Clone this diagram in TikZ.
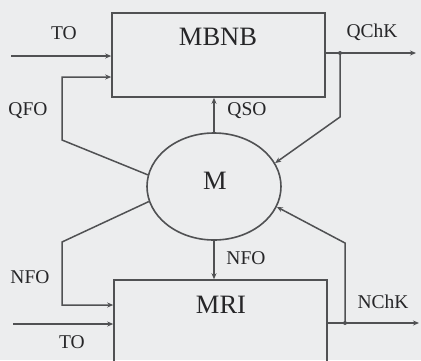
\documentclass[tikz,border=0pt]{standalone}
\usepackage{fontspec}
\setmainfont{Liberation Serif}
\usetikzlibrary{shapes.geometric,arrows.meta}
\definecolor{bg}{HTML}{ECEDEE}
\definecolor{ln}{HTML}{505153}
\definecolor{tx}{HTML}{262628}
\tikzset{
  box/.style={draw=ln, line width=1.6pt, rectangle, inner sep=0pt},
  oval/.style={draw=ln, line width=1.6pt, ellipse, inner sep=0pt, minimum width=134pt, minimum height=107pt},
  wire/.style={draw=ln, line width=1.5pt},
  arr/.style={wire, -{Stealth[length=6pt,width=5pt]}},
  lbl/.style={text=tx, font=\fontsize{19.5}{22}\selectfont, inner sep=0pt},
  big/.style={text=tx, font=\fontsize{26.5}{30}\selectfont, inner sep=0pt},
  jdot/.style={fill=ln, circle, inner sep=0pt, minimum size=4pt}
}
\begin{document}
\begin{tikzpicture}[x=1pt,y=-1pt]
\fill[bg] (0,0) rectangle (421,360);
\useasboundingbox (0,0) rectangle (421,360);
\clip (0,0) rectangle (421,360);
% blocks
\node[box, minimum width=213pt, minimum height=84pt] (MBNB) at (218.5,55) {};
\node[big] (tMBNB) at (218,37) {MBNB};
\node[box, minimum width=213pt, minimum height=100pt] (MRI) at (220.5,330) {};
\node[big] (tMRI) at (221,305) {MRI};
\node[oval] (M) at (214,186.5) {};
\node[big] (tM) at (215,181) {M};
% labels
\node[lbl] (lTO1) at (64,33) {TO};
\node[lbl] (lQFO) at (28,111) {QFO};
\node[lbl] (lQChK) at (372,32) {QChK};
\node[lbl] (lQSO) at (247,111) {QSO};
\node[lbl] (lNFO1) at (30,277) {NFO};
\node[lbl] (lNFO2) at (246,258) {NFO};
\node[lbl] (lNChK) at (383,302) {NChK};
\node[lbl] (lTO2) at (72,342) {TO};
% coordinates
\coordinate (toa) at (11,56);
\coordinate (qfo1) at (62,140);
\coordinate (qfo2) at (62,77);
\coordinate (qend) at (416,53);
\coordinate (qb1) at (340,53);
\coordinate (qb2) at (340,117);
\coordinate (nf1) at (62,242);
\coordinate (nf2) at (62,305);
\coordinate (tob) at (13,324);
\coordinate (nend) at (419,323);
\coordinate (nb1) at (345,323);
\coordinate (nb2) at (345,243);
% connectors
\draw[arr] (toa) -- (toa -| MBNB.west);
\draw[arr] (M.170) -- (qfo1) -- (qfo2) -- (qfo2 -| MBNB.west);
\draw[arr] (qend -| MBNB.east) -- (qend);
\draw[arr] (qb1) -- (qb2) -- (M.21);
\draw[arr] (M.north) -- (M.north |- MBNB.south);
\draw[arr] (M.south) -- (M.south |- MRI.north);
\draw[arr] (M.193) -- (nf1) -- (nf2) -- (nf2 -| MRI.west);
\draw[arr] (tob) -- (tob -| MRI.west);
\draw[arr] (nend -| MRI.east) -- (nend);
\draw[arr] (nb1) -- (nb2) -- (M.-18);
\node[jdot] (j1) at (qb1) {};
\node[jdot] (j2) at (nb1) {};
\end{tikzpicture}
\end{document}
